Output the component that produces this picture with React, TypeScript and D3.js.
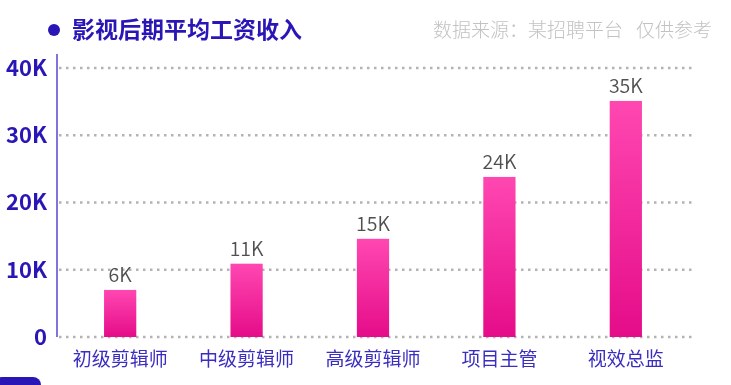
import React from "react";
import * as d3 from "d3";

const categories = ["初级剪辑师", "中级剪辑师", "高级剪辑师", "项目主管", "视效总监"];
const salaries = [7000, 10900, 14600, 23800, 35100];
const salaryLabels = ["6K", "11K", "15K", "24K", "35K"];
const yTicks = [0, 10000, 20000, 30000, 40000];
const yTickLabels = ["0", "10K", "20K", "30K", "40K"];

const W = 731;
const H = 385;
const FONT = "'Noto Sans CJK SC', 'Noto Sans', sans-serif";
const INDIGO = "#2a16b6";

const margin = { top: 68, right: 36, bottom: 48, left: 57 };

const App = () => {
  const x = d3
    .scaleBand()
    .domain(categories)
    .range([margin.left, W - margin.right])
    .paddingInner(0.745)
    .paddingOuter(0.396)
    .align(0.47);

  const y = d3
    .scaleLinear()
    .domain([0, 40000])
    .range([H - margin.bottom, margin.top]);

  return (
    <div style={{ position: "fixed", left: 0, top: 0 }}>
      <svg width={W} height={H} style={{ display: "block", fontFamily: FONT }}>
        <defs>
          <linearGradient id="barGrad" x1="0" y1="0" x2="0" y2="1">
            <stop offset="0%" stopColor="#ff47b1" />
            <stop offset="100%" stopColor="#e50c89" />
          </linearGradient>
        </defs>

        {/* title */}
        <circle cx={54} cy={30} r={6} fill={INDIGO} />
        <text x={72} y={38} fontSize={23} fontWeight={600} fill={INDIGO}>
          影视后期平均工资收入
        </text>
        <text x={623} y={37} fontSize={19} fontWeight={300} fill="#c2c2c2" textAnchor="end">
          数据来源：某招聘平台
        </text>
        <text x={712} y={37} fontSize={19} fontWeight={300} fill="#c2c2c2" textAnchor="end">
          仅供参考
        </text>

        {/* grid lines */}
        {yTicks.map((t) => (
          <line
            key={t}
            x1={margin.left + 2}
            x2={W - margin.right}
            y1={y(t)}
            y2={y(t)}
            stroke="#b3b3b3"
            strokeWidth={2.5}
            strokeDasharray="2.5 4.5"
          />
        ))}

        {/* y axis */}
        <line x1={margin.left} x2={margin.left} y1={54} y2={y(0)} stroke="#2a18c4" strokeWidth={1.2} />
        {yTicks.map((t, i) => (
          <text
            key={t}
            x={47}
            y={y(t)}
            dy="0.36em"
            textAnchor="end"
            fontSize={22}
            fontWeight={600}
            fill={INDIGO}
          >
            {yTickLabels[i]}
          </text>
        ))}

        {/* bars */}
        {categories.map((c, i) => (
          <g key={c}>
            <rect
              x={x(c)}
              y={y(salaries[i])}
              width={x.bandwidth()}
              height={y(0) - y(salaries[i])}
              fill="url(#barGrad)"
            />
            <text
              x={(x(c) || 0) + x.bandwidth() / 2}
              y={y(salaries[i]) - 8}
              textAnchor="middle"
              fontSize={19.5}
              fontWeight={350}
              fill="#505050"
            >
              {salaryLabels[i]}
            </text>
            <text
              x={(x(c) || 0) + x.bandwidth() / 2}
              y={366}
              textAnchor="middle"
              fontSize={19}
              fill="#3a2dc0"
            >
              {c}
            </text>
          </g>
        ))}

        {/* bottom-left tab */}
        <rect x={-6} y={377} width={47} height={20} rx={8} fill={INDIGO} />
      </svg>
    </div>
  );
};

export default App;
